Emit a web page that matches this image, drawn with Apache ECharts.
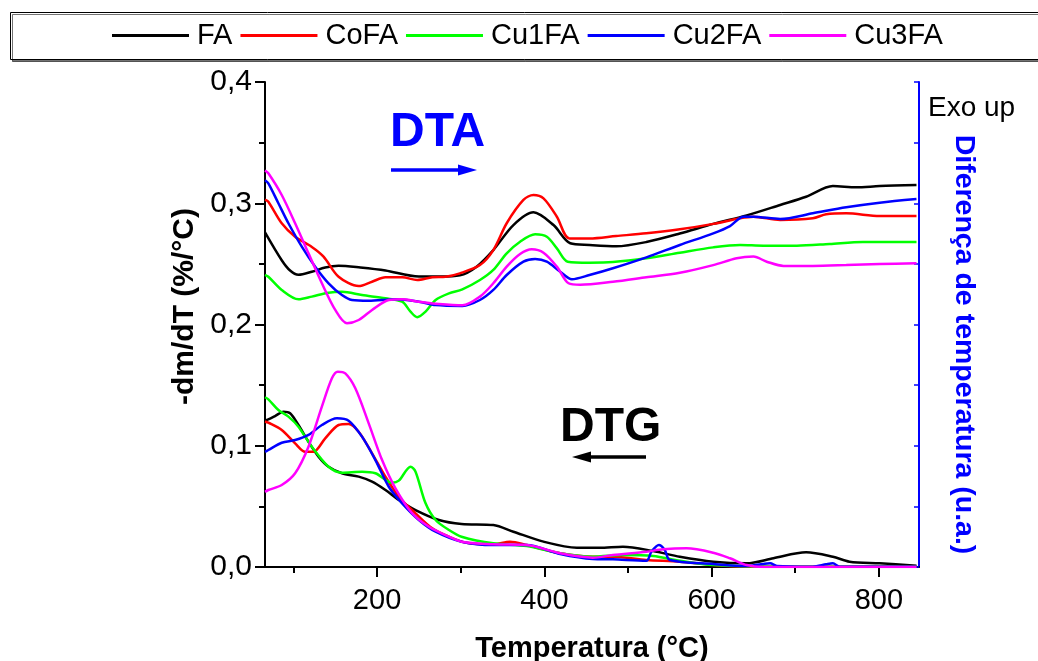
<!DOCTYPE html>
<html>
<head>
<meta charset="utf-8">
<script src="https://cdn.jsdelivr.net/npm/echarts@6/dist/echarts.min.js"></script>
<style>
html,body{margin:0;padding:0;background:#fff;}
#chart{width:1038px;height:661px;}
</style>
</head>
<body>
<div id="chart"></div>
<script>
// ---- Data (temperature °C, value) ----
const names = ['FA', 'CoFA', 'Cu1FA', 'Cu2FA', 'Cu3FA'];
const colors = ['#000000', '#ff0000', '#00ff00', '#0000ff', '#ff00ff'];

const xLabelTicks = [200, 400, 600, 800];
const xMinorTicks = [100, 300, 500, 700];

// DTA curves (upper group)
const faDTA = [[66,0.276],[86,0.253],[96,0.2445],[106,0.241],[122,0.2435],[138,0.247],[154,0.2485],[180,0.247],[210,0.2445],[250,0.2395],[275,0.2395],[299,0.2405],[319,0.2477],[339,0.2614],[363,0.282],[387,0.2925],[411,0.282],[431,0.267],[454,0.2656],[486,0.2645],[522,0.268],[562,0.275],[602,0.283],[642,0.290],[682,0.2986],[713,0.3054],[745,0.3142],[773,0.3131],[801,0.3142],[845,0.315]];
const cofaDTA = [[66,0.303],[70,0.3013],[86,0.2835],[102,0.2724],[122,0.264],[136,0.256],[154,0.2394],[178,0.2317],[194,0.2353],[210,0.239],[230,0.239],[248,0.2367],[266,0.239],[282,0.2394],[299,0.2422],[323,0.249],[339,0.2614],[355,0.2835],[375,0.3027],[387,0.3068],[399,0.304],[415,0.2889],[430,0.271],[454,0.271],[486,0.273],[522,0.2752],[562,0.2785],[602,0.283],[634,0.2876],[650,0.2889],[682,0.2862],[721,0.2876],[737,0.2909],[761,0.2917],[801,0.2895],[845,0.2895]];
const cu1faDTA = [[66,0.241],[70,0.2394],[86,0.2285],[106,0.2208],[122,0.223],[142,0.2262],[158,0.227],[182,0.2243],[210,0.2216],[230,0.2188],[240,0.2106],[248,0.206],[258,0.2106],[270,0.2202],[286,0.2257],[302,0.229],[323,0.2367],[339,0.245],[355,0.2587],[371,0.2683],[389,0.2744],[403,0.2724],[415,0.2628],[428,0.2518],[454,0.251],[482,0.2515],[522,0.2546],[562,0.2592],[602,0.2636],[634,0.2656],[662,0.265],[702,0.265],[741,0.2664],[781,0.268],[845,0.268]];
const cu2faDTA = [[66,0.319],[70,0.3164],[82,0.30],[94,0.2835],[110,0.2642],[126,0.2477],[142,0.234],[158,0.2243],[170,0.2202],[190,0.2196],[222,0.2208],[250,0.2188],[270,0.216],[302,0.2153],[323,0.2202],[339,0.2285],[355,0.2408],[375,0.2518],[389,0.254],[403,0.2518],[419,0.2435],[433,0.2373],[454,0.2408],[482,0.2464],[522,0.2554],[562,0.2656],[602,0.2752],[622,0.2812],[638,0.2889],[650,0.2889],[682,0.287],[721,0.2917],[761,0.2967],[801,0.3005],[845,0.3035]];
const cu3faDTA = [[66,0.327],[70,0.3247],[86,0.3068],[102,0.2835],[118,0.2587],[134,0.234],[150,0.212],[164,0.201],[178,0.2037],[194,0.212],[214,0.2202],[230,0.2208],[250,0.2188],[274,0.2169],[302,0.2158],[323,0.223],[339,0.234],[355,0.2477],[371,0.2581],[385,0.262],[399,0.2592],[415,0.2477],[429,0.234],[443,0.2328],[482,0.2353],[522,0.239],[562,0.2427],[602,0.249],[630,0.2546],[650,0.256],[666,0.2518],[686,0.2483],[721,0.2483],[761,0.249],[801,0.2499],[845,0.2505]];

// DTG curves (lower group)
const faDTG = [[66,0.121],[70,0.1218],[78,0.1245],[88,0.1281],[96,0.1268],[106,0.1171],[118,0.1033],[130,0.091],[142,0.0827],[158,0.0773],[178,0.0745],[194,0.0704],[210,0.0635],[226,0.0553],[246,0.047],[274,0.0388],[301,0.0355],[339,0.0346],[363,0.0291],[399,0.0209],[439,0.0159],[466,0.0159],[494,0.0168],[530,0.0132],[562,0.0085],[602,0.0044],[642,0.003],[674,0.0072],[713,0.0121],[745,0.0085],[765,0.0044],[801,0.003],[845,0.0011]];
const cofaDTG = [[66,0.12],[70,0.119],[86,0.113],[102,0.102],[114,0.0951],[124,0.0951],[138,0.1061],[154,0.1171],[166,0.118],[178,0.1116],[194,0.0938],[210,0.0745],[226,0.058],[246,0.0443],[266,0.0319],[286,0.025],[307,0.02],[339,0.0187],[359,0.0209],[379,0.0181],[419,0.0113],[458,0.0085],[482,0.0085],[522,0.0058],[562,0.0044],[602,0.0016],[642,0.0002],[845,0.0002]];
const cu1faDTG = [[66,0.14],[70,0.1383],[82,0.1295],[94,0.124],[106,0.1157],[122,0.0992],[142,0.0827],[158,0.0778],[182,0.0786],[198,0.0773],[218,0.0695],[226,0.0712],[240,0.0827],[246,0.0786],[258,0.0525],[270,0.0388],[286,0.0305],[301,0.025],[339,0.0195],[379,0.0173],[419,0.0113],[458,0.0085],[494,0.0099],[530,0.0091],[562,0.0052],[602,0.0016],[682,0.0002],[845,0.0002]];
const cu2faDTG = [[66,0.095],[70,0.0965],[86,0.1025],[102,0.1047],[118,0.1089],[134,0.1171],[152,0.1226],[166,0.1207],[182,0.1075],[198,0.0882],[214,0.0662],[230,0.0525],[250,0.0388],[270,0.0291],[301,0.0209],[339,0.0181],[379,0.0181],[419,0.0107],[458,0.0066],[482,0.0063],[522,0.0052],[528,0.0126],[537,0.0181],[544,0.014],[550,0.0058],[602,0.0025],[642,0.0008],[662,0.0025],[670,0.003],[678,0.0008],[721,0.0002],[737,0.0022],[745,0.003],[753,0.0002],[845,0.0002]];
const cu3faDTG = [[66,0.062],[70,0.0635],[86,0.0676],[102,0.0773],[118,0.0992],[134,0.1322],[146,0.1556],[153,0.1611],[162,0.1597],[174,0.1474],[190,0.1185],[206,0.0882],[222,0.0649],[242,0.0443],[262,0.0332],[286,0.025],[301,0.0209],[339,0.0187],[379,0.0181],[419,0.0113],[458,0.0077],[482,0.0099],[522,0.0126],[542,0.0146],[570,0.0154],[602,0.0118],[622,0.0072],[642,0.0016],[662,0.0],[845,0.0]];

const dtaSets = [faDTA, cofaDTA, cu1faDTA, cu2faDTA, cu3faDTA];
const dtgSets = [faDTG, cofaDTG, cu1faDTG, cu2faDTG, cu3faDTG];

const FONT = "'Liberation Sans', Arial, sans-serif";

const series = [];
names.forEach((n, i) => {
  [dtaSets[i], dtgSets[i]].forEach(d => {
    series.push({
      name: n, type: 'line', data: d, xAxisIndex: 0, yAxisIndex: 0,
      showSymbol: false, symbol: 'none', smooth: 0.3,
      lineStyle: { color: colors[i], width: 2.5 },
      itemStyle: { color: colors[i] }
    });
  });
});

const chart = echarts.init(document.getElementById('chart'), null, { renderer: 'canvas' });
chart.setOption({
  animation: false,
  backgroundColor: '#ffffff',
  textStyle: { fontFamily: FONT },
  grid: { left: 265, right: 119, top: 82, bottom: 94, containLabel: false, outerBoundsMode: 'none' },
  legend: {
    data: names,
    left: 10, top: 12,
    padding: [9, 0, 9, 102],
    itemGap: 8,
    itemWidth: 77, itemHeight: 3,
    icon: 'rect',
    z: 10,
    textStyle: { fontFamily: FONT, fontSize: 29, color: '#000', padding: [0, 0, 0, 3] }
  },
  xAxis: [
    {
      type: 'value', min: 66, max: 848, position: 'bottom',
      axisLine: { show: true, lineStyle: { color: '#000', width: 2 } },
      axisTick: { show: true, inside: false, length: 10, customValues: xLabelTicks, lineStyle: { color: '#000', width: 2 } },
      axisLabel: { show: true, customValues: xLabelTicks, fontSize: 29, margin: 19, color: '#000', fontFamily: FONT },
      splitLine: { show: false },
      name: 'Temperatura (°C)', nameLocation: 'middle', nameGap: 67,
      nameTextStyle: { fontSize: 29, fontWeight: 'bold', color: '#000', fontFamily: FONT }
    },
    {
      type: 'value', min: 66, max: 848, position: 'bottom',
      axisLine: { show: false },
      axisTick: { show: true, inside: false, length: 6, customValues: xMinorTicks, lineStyle: { color: '#000', width: 2 } },
      axisLabel: { show: false },
      splitLine: { show: false }
    }
  ],
  yAxis: [
    {
      type: 'value', min: 0, max: 0.4, interval: 0.1, position: 'left',
      axisLine: { show: true, lineStyle: { color: '#000', width: 2 } },
      axisTick: { show: true, inside: false, length: 10, lineStyle: { color: '#000', width: 2 } },
      minorTick: { show: true, splitNumber: 2, length: 6, lineStyle: { color: '#000', width: 2 } },
      axisLabel: { fontSize: 30, margin: 13, color: '#000', fontFamily: FONT,
        formatter: v => v.toFixed(1).replace('.', ',') },
      splitLine: { show: false },
      name: '-dm/dT (%/°C)', nameLocation: 'middle', nameGap: 63, nameRotate: 90,
      nameTextStyle: { fontSize: 30, fontWeight: 'bold', color: '#000', fontFamily: FONT, padding: [0, 0, 0, 36] }
    },
    {
      type: 'value', min: 0, max: 0.4, interval: 0.05, position: 'right',
      axisLine: { show: true, lineStyle: { color: '#0000ff', width: 2 } },
      axisTick: { show: true, inside: true, length: 5, lineStyle: { color: '#0000ff', width: 1.5 } },
      axisLabel: { show: false },
      splitLine: { show: false },
      name: 'Diferença de temperatura (u.a.)', nameLocation: 'middle', nameGap: 30, nameRotate: -90,
      nameTextStyle: { fontSize: 28.5, fontWeight: 'bold', color: '#0000ff', fontFamily: FONT, padding: [0, 0, 0, 40] }
    }
  ],
  graphic: [
    { type: 'rect', z: 0, shape: { x: 10.5, y: 12.5, width: 1045, height: 47 },
      style: { fill: '#fff', stroke: '#000', lineWidth: 1, shadowColor: 'rgba(0,0,0,0.55)', shadowBlur: 0, shadowOffsetX: 2, shadowOffsetY: 2 } },
    { type: 'text', left: 928, top: 94, style: { text: 'Exo up', font: "28px " + FONT, fill: '#000' } },
    { type: 'text', left: 390, top: 109, style: { text: 'DTA', font: "bold 48px " + FONT, fill: '#0000ff' } },
    { type: 'line', shape: { x1: 391, y1: 170, x2: 462, y2: 170 }, style: { stroke: '#0000ff', lineWidth: 3.3 } },
    { type: 'polygon', shape: { points: [[458, 164.5], [477, 170], [458, 175.5]] }, style: { fill: '#0000ff' } },
    { type: 'text', left: 560, top: 404, style: { text: 'DTG', font: "bold 48px " + FONT, fill: '#000' } },
    { type: 'line', shape: { x1: 588, y1: 457, x2: 646, y2: 457 }, style: { stroke: '#000', lineWidth: 3.3 } },
    { type: 'polygon', shape: { points: [[591, 451.5], [572, 457], [591, 462.5]] }, style: { fill: '#000' } }
  ],
  series: series
});
</script>
</body>
</html>
